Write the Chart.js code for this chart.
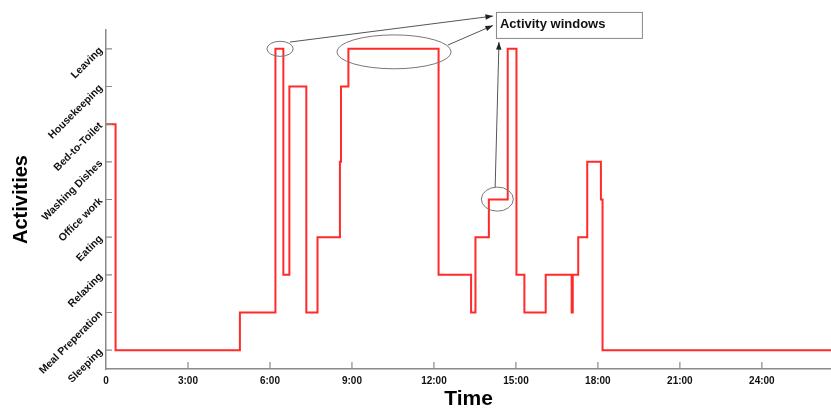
<!DOCTYPE html>
<html>
<head>
<meta charset="utf-8">
<title>Activities</title>
<script src="https://cdn.jsdelivr.net/npm/chart.js@4.4.1/dist/chart.umd.min.js"></script>
<style>
    body { margin: 0; background: #fff; }
    #wrap { width: 831px; height: 408px; }
</style>
</head>
<body>
<div id="wrap"><canvas id="graficaActividades" width="831" height="408"></canvas></div>
<script>
    //-----------datos----------------------//
    const actividades = ['Sleeping', 'Meal Preperation', 'Relaxing', 'Eating', 'Office work',
        'Washing Dishes', 'Bed-to-Toilet', 'Housekeeping', 'Leaving'];

    // hora (en horas) en la que empieza cada actividad y su indice
    const horas = [0, 0.35, 4.9, 6.2, 6.49, 6.71, 7.33, 7.74, 8.56, 8.6, 8.87, 12.17, 13.36, 13.52,
        14.01, 14.7, 15.02, 15.31, 16.09, 17.04, 17.08, 17.28, 17.61, 18.11, 18.17, 26.53];
    const niveles = [6, 0, 1, 8, 2, 7, 1, 3, 5, 7, 8, 2, 1, 3, 4, 8, 2, 1, 2, 1, 2, 3, 5, 4, 0, 0];

    const horasTicks = [0, 3, 6, 9, 12, 15, 18, 21, 24];
    const horasLabels = ['0', '3:00', '6:00', '9:00', '12:00', '15:00', '18:00', '21:00', '24:00'];

    let puntos = [];
    horas.forEach(function(h, i) {
        puntos.push({ x: h, y: niveles[i] });
    });

    const gris = '#8a8a8a';

    // marcas de los ejes hacia dentro + anotaciones (en unidades de datos)
    const anotaciones = {
        id: 'anotaciones',
        afterDatasetsDraw(chart) {
            const ctx = chart.ctx;
            const xs = chart.scales.x;
            const ys = chart.scales.y;
            const px = v => xs.getPixelForValue(v);
            const py = v => ys.getPixelForValue(v);

            ctx.save();
            ctx.strokeStyle = gris;
            ctx.lineWidth = 1.2;
            ctx.beginPath();
            xs.ticks.forEach(function(t) {
                if (t.value === 0) return;
                ctx.moveTo(px(t.value), chart.chartArea.bottom);
                ctx.lineTo(px(t.value), chart.chartArea.bottom - 7);
            });
            ys.ticks.forEach(function(t) {
                ctx.moveTo(chart.chartArea.left, py(t.value));
                ctx.lineTo(chart.chartArea.left + 6, py(t.value));
            });
            ctx.stroke();

            // elipses
            const elipses = [
                { t: 6.37, v: 8.0, rt: 0.48, rv: 0.2 },
                { t: 10.54, v: 7.92, rt: 2.09, rv: 0.45 },
                { t: 14.32, v: 4.01, rt: 0.585, rv: 0.32 }
            ];
            ctx.strokeStyle = '#777';
            ctx.lineWidth = 1;
            elipses.forEach(function(e) {
                const rx = Math.abs(px(e.t + e.rt) - px(e.t));
                const ry = Math.abs(py(e.v + e.rv) - py(e.v));
                ctx.beginPath();
                ctx.ellipse(px(e.t), py(e.v), rx, ry, 0, 0, Math.PI * 2);
                ctx.stroke();
            });

            // flechas
            const flechas = [
                [6.73, 8.18, 14.16, 8.87],
                [12.51, 8.10, 14.16, 8.62],
                [14.24, 4.33, 14.38, 8.18]
            ];
            flechas.forEach(function(f) {
                const x1 = px(f[0]), y1 = py(f[1]), x2 = px(f[2]), y2 = py(f[3]);
                const ang = Math.atan2(y2 - y1, x2 - x1);
                ctx.strokeStyle = '#555';
                ctx.beginPath();
                ctx.moveTo(x1, y1);
                ctx.lineTo(x2, y2);
                ctx.stroke();
                ctx.fillStyle = '#222';
                ctx.beginPath();
                ctx.moveTo(x2, y2);
                ctx.lineTo(x2 - 8 * Math.cos(ang - 0.35), y2 - 8 * Math.sin(ang - 0.35));
                ctx.lineTo(x2 - 8 * Math.cos(ang + 0.35), y2 - 8 * Math.sin(ang + 0.35));
                ctx.closePath();
                ctx.fill();
            });

            // caja de texto
            const bx = px(14.27), by = py(8.98);
            const bw = px(19.61) - bx, bh = py(8.29) - by;
            ctx.fillStyle = '#fff';
            ctx.fillRect(bx, by, bw, bh);
            ctx.strokeStyle = '#888';
            ctx.strokeRect(bx + 0.5, by + 0.5, bw, bh);
            ctx.fillStyle = '#111';
            ctx.font = 'bold 13px "Liberation Sans", Arial, sans-serif';
            ctx.textBaseline = 'middle';
            ctx.fillText('Activity windows', bx + 4, by + bh / 2);
            ctx.restore();
        }
    };

    const ctx = document.getElementById('graficaActividades').getContext('2d');
    const myChart = new Chart(ctx, {
        type: 'line',
        data: {
            datasets: [{
                label: 'Activities',
                data: puntos,
                stepped: 'before',
                borderColor: '#ff2a2a',
                borderWidth: 2,
                pointRadius: 0,
                fill: false
            }]
        },
        options: {
            responsive: false,
            animation: false,
            layout: { padding: { top: 30, right: 0, left: 0, bottom: 0 } },
            plugins: {
                legend: { display: false },
                tooltip: { enabled: false }
            },
            scales: {
                x: {
                    type: 'linear',
                    min: 0,
                    max: 26.53,
                    afterFit: function(s) { s.height = 39; },
                    afterBuildTicks: function(s) {
                        s.ticks = horasTicks.map(v => ({ value: v }));
                    },
                    grid: { display: false, drawTicks: false },
                    border: { display: true, color: gris, width: 1.5 },
                    ticks: {
                        autoSkip: false,
                        maxRotation: 0,
                        padding: 6,
                        color: '#111',
                        font: { family: '"Liberation Sans", Arial, sans-serif', size: 10, weight: 'bold' },
                        callback: function(v) {
                            return horasLabels[horasTicks.indexOf(v)];
                        }
                    },
                    title: {
                        display: true,
                        text: 'Time',
                        color: '#000',
                        padding: { top: 0, bottom: -2 },
                        font: { family: '"Liberation Sans", Arial, sans-serif', size: 21, weight: 'bold', lineHeight: 1 }
                    }
                },
                y: {
                    type: 'linear',
                    min: -0.5,
                    max: 8.5,
                    afterFit: function(s) { s.width = 106; },
                    afterBuildTicks: function(s) {
                        s.ticks = actividades.map((a, i) => ({ value: i }));
                    },
                    grid: { display: false, drawTicks: false },
                    border: { display: true, color: gris, width: 1.5 },
                    ticks: {
                        autoSkip: false,
                        minRotation: 45,
                        maxRotation: 45,
                        padding: 5,
                        color: '#111',
                        font: { family: '"Liberation Sans", Arial, sans-serif', size: 10.5, weight: 'bold' },
                        callback: function(v) {
                            return actividades[v];
                        }
                    },
                    title: {
                        display: true,
                        text: 'Activities',
                        color: '#000',
                        padding: { top: 11, bottom: 0 },
                        font: { family: '"Liberation Sans", Arial, sans-serif', size: 20, weight: 'bold', lineHeight: 1 }
                    }
                }
            }
        },
        plugins: [anotaciones]
    });
</script>
</body>
</html>
